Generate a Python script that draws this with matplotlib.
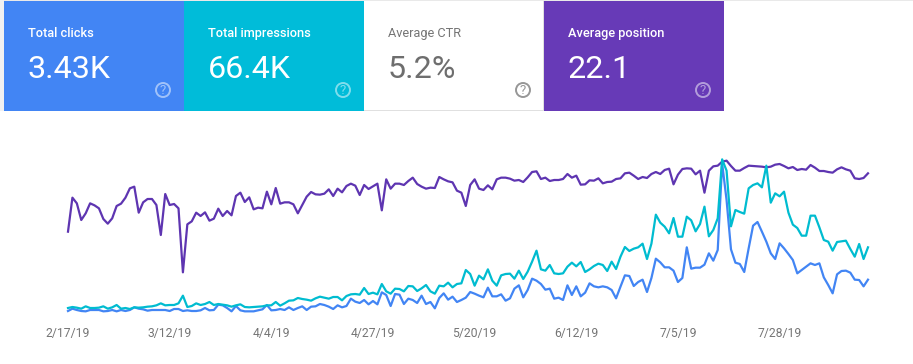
import matplotlib
matplotlib.use("Agg")
import matplotlib.pyplot as plt
from matplotlib.patches import Rectangle, Circle
import pandas as pd

W, H = 913, 364
start_date = "2019-02-17"
tick_dates = ["2019-02-17", "2019-03-12", "2019-04-04", "2019-04-27",
              "2019-05-20", "2019-06-12", "2019-07-05", "2019-07-28"]
tick_labels = ["2/17/19", "3/12/19", "4/4/19", "4/27/19", "5/20/19", "6/12/19", "7/5/19", "7/28/19"]

# Series on the chart's own relative scale (0-500, each metric is independently scaled in the source)
clicks = [17,24,20,17,16,20,20,20,16,17,20,16,20,17,20,28,24,22,18,20,20,20,20,17,23,23,17,19,17,17,19,26,19,20,36,34,26,16,32,19,16,16,16,19,22,35,19,20,23,20,28,20,26,31,20,30,31,
          38,35,30,23,34,28,32,54,45,41,50,37,47,37,73,65,32,68,66,38,54,50,41,63,38,44,25,56,70,51,60,44,50,57,74,69,63,58,87,61,61,67,48,55,84,94,58,80,114,108,98,81,84,54,57,50,94,65,91,61,72,100,91,88,
          91,88,80,55,90,124,122,92,104,111,74,116,174,163,148,148,138,104,116,208,144,147,147,156,190,168,200,460,350,202,162,158,134,205,273,284,255,225,190,173,220,205,188,170,130,140,150,160,155,160,118,95,70,127,137,138,132,111,110,91,111]
impressions = [26,29,27,24,31,26,26,27,31,24,28,35,24,26,23,28,27,28,30,31,34,40,34,35,35,40,63,29,32,40,35,38,44,35,38,36,34,30,34,37,29,28,29,30,31,34,34,44,33,40,48,49,56,53,51,48,55,
               60,57,54,59,59,49,62,67,68,66,86,68,72,67,98,76,69,84,83,76,92,91,77,85,95,76,69,93,91,102,88,98,100,140,128,93,123,112,142,108,93,124,128,129,114,138,113,135,165,198,142,138,155,130,128,130,150,162,151,164,134,142,152,159,
               155,137,165,143,180,209,197,204,208,219,173,219,306,282,270,250,296,240,240,300,289,256,278,330,241,260,295,472,438,271,320,314,309,385,395,400,388,453,342,370,361,375,312,276,266,243,243,303,303,268,230,225,198,224,226,228,203,180,218,173,208]
position = [255,357,340,290,310,340,334,325,293,279,295,332,339,357,385,390,312,343,353,353,335,245,368,335,338,325,133,277,286,312,302,313,288,294,324,302,317,304,362,372,344,358,322,327,325,375,337,386,339,343,343,337,310,335,360,374,367,
            366,369,382,362,384,373,392,399,393,365,395,383,391,399,319,412,384,399,399,395,407,417,398,390,384,387,386,419,412,406,403,378,372,332,395,412,384,380,394,382,412,417,417,414,408,410,404,418,434,436,413,417,407,410,410,413,428,417,423,396,397,409,408,415,
            400,404,405,413,415,430,432,423,413,419,416,428,434,428,440,444,397,426,443,445,444,427,438,372,438,451,453,465,468,452,438,438,446,453,452,451,450,448,450,456,458,452,445,449,440,443,441,455,447,437,437,434,432,442,448,442,438,415,413,416,430]

card_titles = ["Total clicks", "Total impressions", "Average CTR", "Average position"]
card_values = ["3.43K", "66.4K", "5.2%", "22.1"]
card_fill = ["#4285F4", "#00BCD9", "#FFFFFF", "#673AB7"]
card_text = ["#FFFFFF", "#FFFFFF", "#757575", "#FFFFFF"]
card_value_text = ["#FFFFFF", "#FFFFFF", "#6E6E6E", "#FFFFFF"]

plt.rcParams["font.family"] = ["Roboto", "DejaVu Sans"]
fig = plt.figure(figsize=(W / 100, H / 100), dpi=100, facecolor="white")

# Overlay in pixel coordinates for the header cards
ov = fig.add_axes([0, 0, 1, 1], zorder=2)
ov.set_xlim(0, W); ov.set_ylim(H, 0); ov.axis("off"); ov.patch.set_alpha(0)
ov.add_patch(Rectangle((0, 0), W, 1, fc="#E9E9E9", ec="none"))
ov.add_patch(Rectangle((0, 0), 4, 111, fc="#F1F1F1", ec="none"))
for k in range(4):
    x0 = 4 + 180 * k
    ov.add_patch(Rectangle((x0, 1), 180, 110, fc=card_fill[k], ec="none"))
    if card_fill[k] == "#FFFFFF":
        ov.add_patch(Rectangle((x0, 110), 180, 1, fc="#E0E0E0", ec="none"))
        ov.add_patch(Rectangle((x0 + 179, 1), 1, 110, fc="#E0E0E0", ec="none"))
    ov.text(x0 + 24, 33.5, card_titles[k], color=card_text[k], fontsize=9.2,
            fontweight="medium" if k != 2 else "normal", ha="left", va="center")
    ov.text(x0 + 23.5, 69.5, card_values[k], color=card_value_text[k], fontsize=23.2, ha="left", va="center")
    col = card_text[k]
    a = 0.5 if k != 2 else 0.75
    ov.add_patch(Circle((x0 + 159, 90), 7, fc="none", ec=col, lw=1.4, alpha=a))
    ov.text(x0 + 159, 90.3, "?", color=col, alpha=a, fontsize=9.5, ha="center", va="center")

# Main chart
dates = pd.date_range(start_date, periods=len(clicks), freq="D")
ax = fig.add_axes([68 / W, (H - 316.67) / H, 800 / W, 166.67 / H], zorder=1)
lw = 1.6
ax.plot(dates, position, color="#5E35B1", lw=lw, clip_on=False, solid_joinstyle="round")
ax.plot(dates, clicks, color="#4285F4", lw=lw, clip_on=False, solid_joinstyle="round")
ax.plot(dates, impressions, color="#00BCD0", lw=lw, clip_on=False, solid_joinstyle="round")
ax.set_xlim(dates[0], dates[-1])
ax.set_ylim(0, 500)
ax.set_yticks([])
ax.set_xticks(pd.to_datetime(tick_dates))
ax.set_xticklabels(tick_labels, fontsize=8.7, color="#757575")
ax.tick_params(axis="x", length=0, pad=7.5)
for s in ax.spines.values():
    s.set_visible(False)
ax.patch.set_alpha(0)

fig.savefig("out.png", dpi=100)
